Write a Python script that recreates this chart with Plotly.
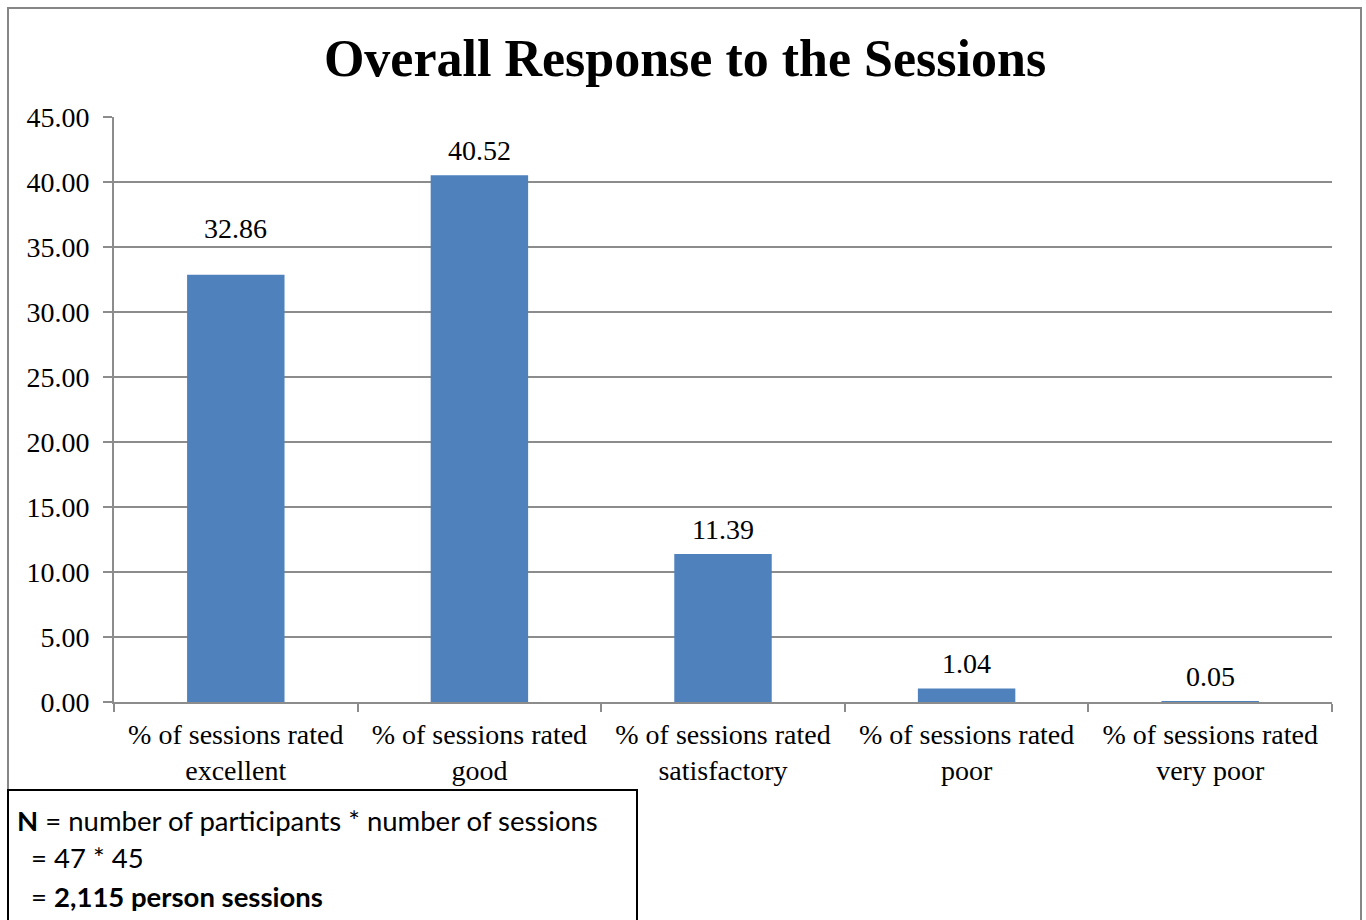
import plotly.graph_objects as go

categories = [
    "% of sessions rated<br>excellent",
    "% of sessions rated<br>good",
    "% of sessions rated<br>satisfactory",
    "% of sessions rated<br>poor",
    "% of sessions rated<br>very poor",
]
values = [32.86, 40.52, 11.39, 1.04, 0.05]
y_ticks = [0, 5, 10, 15, 20, 25, 30, 35, 40, 45]
y_tick_labels = ["%.2f" % v for v in y_ticks]
title_text = "Overall Response to the Sessions"
note_lines = [
    "<b>N</b> = number of participants * number of sessions",
    "  = 47 * 45",
    "  = <b>2,115 person sessions</b>",
]

W, H = 1366, 920
L, R, T, B = 114, 1332, 117, 702  # plot area in px
pw, ph = R - L, B - T

def px_x(x):
    return (x - L) / pw

def px_y(y):
    return (B - y) / ph

SERIF = "Liberation Serif, Times New Roman, serif"
SANS = "Lato, Calibri, sans-serif"
GRID = "#8c8c8c"
FS = 28

fig = go.Figure()
fig.add_trace(go.Bar(
    x=categories, y=values,
    marker=dict(color="#4F81BD", line=dict(width=0)),
    width=0.4, hoverinfo="skip",
))

# data labels (first label was moved higher in the original)
label_shift = {0: 29}
for i, (c, v) in enumerate(zip(categories, values)):
    fig.add_annotation(
        x=c, y=v, xref="x", yref="y", text="%.2f" % v, showarrow=False,
        yanchor="bottom", yshift=label_shift.get(i, 7),
        font=dict(family=SERIF, size=FS, color="#000000"),
    )

# outer chart border
fig.add_shape(type="rect", xref="paper", yref="paper",
              x0=px_x(8), x1=px_x(1361), y0=px_y(960), y1=px_y(8),
              line=dict(color="#868686", width=2), fillcolor="rgba(0,0,0,0)", layer="below")
# note box
fig.add_shape(type="rect", xref="paper", yref="paper",
              x0=px_x(8), x1=px_x(637), y0=px_y(960), y1=px_y(790),
              line=dict(color="#000000", width=2), fillcolor="white", layer="above")

note_y = [820, 857, 896]
for line, yy in zip(note_lines, note_y):
    fig.add_annotation(
        x=px_x(15), y=px_y(yy), xref="paper", yref="paper", text=line.replace("  ", "&nbsp;&nbsp;"),
        showarrow=False, xanchor="left", yanchor="middle",
        font=dict(family=SANS, size=27.5, color="#000000"),
    )

fig.update_layout(
    width=W, height=H,
    margin=dict(l=L, r=W - R, t=T, b=H - B, pad=0),
    paper_bgcolor="white", plot_bgcolor="white",
    showlegend=False,
    title=dict(text="<b>%s</b>" % title_text, x=685 / W, xref="container", xanchor="center",
               y=1 - 58 / H, yanchor="middle",
               font=dict(family=SERIF, size=52, color="#000000")),
    bargap=0.6,
)
fig.update_xaxes(
    type="category", tickson="boundaries", ticks="outside", ticklen=8,
    tickcolor=GRID, tickwidth=2, showline=True, linecolor=GRID, linewidth=2,
    showgrid=False, tickfont=dict(family=SERIF, size=FS, color="#000000"),
    ticklabelstandoff=6,
)
fig.update_yaxes(
    range=[0, 45], tickvals=y_ticks, ticktext=y_tick_labels,
    ticks="outside", ticklen=9, tickcolor=GRID, tickwidth=2,
    showline=True, linecolor=GRID, linewidth=2,
    showgrid=True, gridcolor=GRID, gridwidth=2, zeroline=False,
    tickfont=dict(family=SERIF, size=FS, color="#000000"),
    ticklabelstandoff=8,
)

fig.write_html("out.html")
